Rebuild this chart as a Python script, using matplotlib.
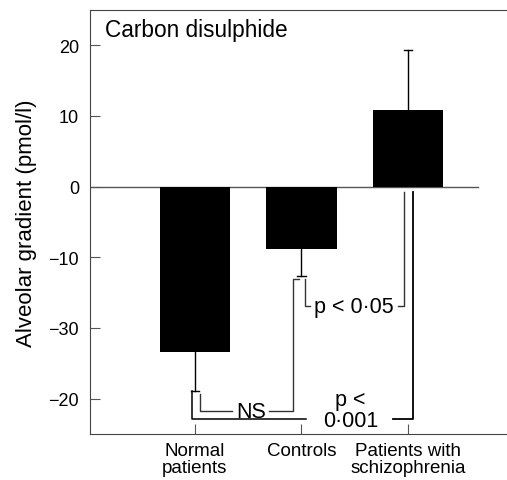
import matplotlib
matplotlib.use("Agg")
import matplotlib.pyplot as plt
import numpy as np

categories = ["Normal\npatients", "Controls", "Patients with\nschizophrenia"]
means = [-23.4, -8.8, 10.8]
sems = [5.5, 3.8, 8.5]
ytick_vals = [20, 10, 0, -10, -20, -30]
ytick_labels = ["20", "10", "0", "\u221210", "\u221230", "\u221220"]
title = "Carbon disulphide"
ylabel = "Alveolar gradient (pmol/l)"
sig_labels = ["NS", "p < 0\u00b705", "p <\n0\u00b7001"]

plt.rcParams['font.family'] = ['Liberation Sans', 'DejaVu Sans']

fig = plt.figure(figsize=(5.07, 4.81), dpi=100)
ax = fig.add_axes([90/507, 1-435/481, 1-90/507, (435-11)/481])

x = np.arange(len(categories))
ax.bar(x, means, width=0.66, color="black", zorder=2)
ends = [m - s if m < 0 else m + s for m, s in zip(means, sems)]
for xi, m, e in zip(x, means, ends):
    ax.plot([xi, xi], [m, e], color="black", lw=1, zorder=3)
    ax.plot([xi - 0.04, xi + 0.04], [e, e], color="black", lw=1, zorder=3)

ax.set_xlim(-0.985, 2.93)
ax.set_ylim(-35, 25)
ax.axhline(0, xmin=0, xmax=0.93, color="#555555", lw=1, zorder=1)

lc = "#333333"
fs_sig = 15.5
# NS bracket: normal vs controls
yb = -31.8
ax.plot([x[0] + 0.05, x[0] + 0.05, x[0] + 0.35], [ends[0] - 0.5, yb, yb], color=lc, lw=1)
ax.plot([x[1] - 0.30, x[1] - 0.08, x[1] - 0.08, x[1] - 0.02],
        [yb, yb, ends[1] - 0.4, ends[1] - 0.4], color=lc, lw=1)
ax.text(0.53, yb, sig_labels[0], ha="center", va="center", fontsize=fs_sig)
# p<0.05 bracket: controls vs schizophrenia
yb2 = -16.9
ax.plot([x[1] + 0.03, x[1] + 0.03, x[1] + 0.08], [ends[1] - 0.4, yb2, yb2], color=lc, lw=1)
ax.plot([x[2] - 0.09, x[2] - 0.04, x[2] - 0.04], [yb2, yb2, -0.7], color=lc, lw=1)
ax.text(1.49, yb2, sig_labels[1], ha="center", va="center", fontsize=fs_sig)
# p<0.001 bracket: normal vs schizophrenia
yb3 = -32.9
ax.plot([x[0] - 0.03, x[0] - 0.03, x[1] + 0.04], [ends[0], yb3, yb3], color="black", lw=1.1)
ax.plot([x[2] - 0.14, x[2] + 0.05, x[2] + 0.05], [yb3, yb3, -0.7], color="black", lw=1.3)
ax.text(1.46, -31.6, sig_labels[2], ha="center", va="center", fontsize=fs_sig,
        linespacing=1.05)

ax.set_xticks(x)
ax.set_xticklabels(categories, fontsize=13.5, linespacing=1.0)
ax.set_yticks(ytick_vals)
ax.set_yticklabels(ytick_labels, fontsize=13)
ax.tick_params(direction="in", length=7, width=0.8, color="#555555")
ax.tick_params(axis="x", pad=6)
ax.tick_params(axis="y", pad=8)
ax.spines["right"].set_visible(False)
for sp in ["left", "top", "bottom"]:
    ax.spines[sp].set_linewidth(0.8)
    ax.spines[sp].set_color("#444444")
ax.set_ylabel(ylabel, fontsize=16, labelpad=8)
ax.text(0.035, 0.98, title, transform=ax.transAxes, ha="left", va="top", fontsize=16.3)

fig.savefig("out.png", dpi=100)
